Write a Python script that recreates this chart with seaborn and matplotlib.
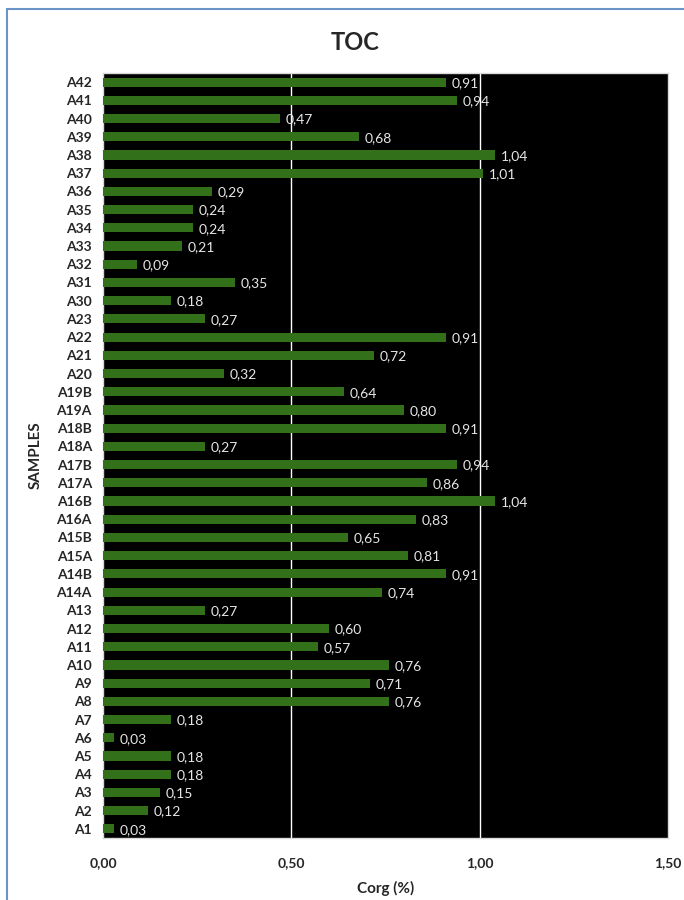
import matplotlib
matplotlib.use('Agg')
import matplotlib.pyplot as plt
import seaborn as sns
import pandas as pd
from matplotlib.patches import Rectangle

# sample names, top to bottom as in the chart
samples = ['A42', 'A41', 'A40', 'A39', 'A38', 'A37', 'A36', 'A35', 'A34', 'A33',
           'A32', 'A31', 'A30', 'A23', 'A22', 'A21', 'A20', 'A19B', 'A19A', 'A18B',
           'A18A', 'A17B', 'A17A', 'A16B', 'A16A', 'A15B', 'A15A', 'A14B', 'A14A', 'A13',
           'A12', 'A11', 'A10', 'A9', 'A8', 'A7', 'A6', 'A5', 'A4', 'A3', 'A2', 'A1']
toc = [0.91, 0.94, 0.47, 0.68, 1.04, 1.01, 0.29, 0.24, 0.24, 0.21,
       0.09, 0.35, 0.18, 0.27, 0.91, 0.72, 0.32, 0.64, 0.80, 0.91,
       0.27, 0.94, 0.86, 1.04, 0.83, 0.65, 0.81, 0.91, 0.74, 0.27,
       0.60, 0.57, 0.76, 0.71, 0.76, 0.18, 0.03, 0.18, 0.18, 0.15, 0.12, 0.03]
xticks = [0.0, 0.5, 1.0, 1.5]

df = pd.DataFrame({'Sample': samples, 'TOC': toc})

sns.set_style('white')
plt.rcParams['font.family'] = ['Lato', 'DejaVu Sans']

fig = plt.figure(figsize=(6.84, 9), dpi=100)
ax = fig.add_axes([103 / 684, 62 / 900, 565 / 684, 765 / 900])

# outer blue frame of the chart
fig.patches.append(Rectangle((7 / 684, -0.05), 1.0, 0.05 + 891 / 900, transform=fig.transFigure,
                             fill=False, edgecolor='#6a93c8', linewidth=1.5))

sns.barplot(data=df, x='TOC', y='Sample', orient='h', order=samples,
            color='#33701a', saturation=1, width=0.5, ax=ax, zorder=3,
            linewidth=0, edgecolor='none')

ax.set_facecolor('black')
ax.set_xlim(0, 1.5)
ax.set_xticks(xticks)
ax.set_xticklabels([f'{t:.2f}'.replace('.', ',') for t in xticks], fontweight='bold', fontsize=10)
ax.tick_params(axis='x', pad=14, length=0)
ax.tick_params(axis='y', length=0, pad=8)
for lbl in ax.get_yticklabels():
    lbl.set_fontweight('bold')
    lbl.set_fontsize(10)
for x in [0.5, 1.0]:
    ax.axvline(x, color='white', linewidth=1, zorder=2)
for s in ax.spines.values():
    s.set_color('#d9d9d9')
    s.set_linewidth(1)

for i, v in enumerate(toc):
    ax.text(v + 0.015, i + 0.05, f'{v:.2f}'.replace('.', ','), color='#e6e6e6',
            fontsize=10, va='center', ha='left', zorder=4)

ax.set_xlabel('Corg (%)', fontweight='bold', fontsize=11, labelpad=8)
ax.set_ylabel('SAMPLES', fontweight='bold', fontsize=11, labelpad=10)
fig.text(355 / 684, 1 - 42 / 900, 'TOC', ha='center', va='center', fontsize=17, fontweight='bold')

fig.savefig('out.png', dpi=100, facecolor='white')
